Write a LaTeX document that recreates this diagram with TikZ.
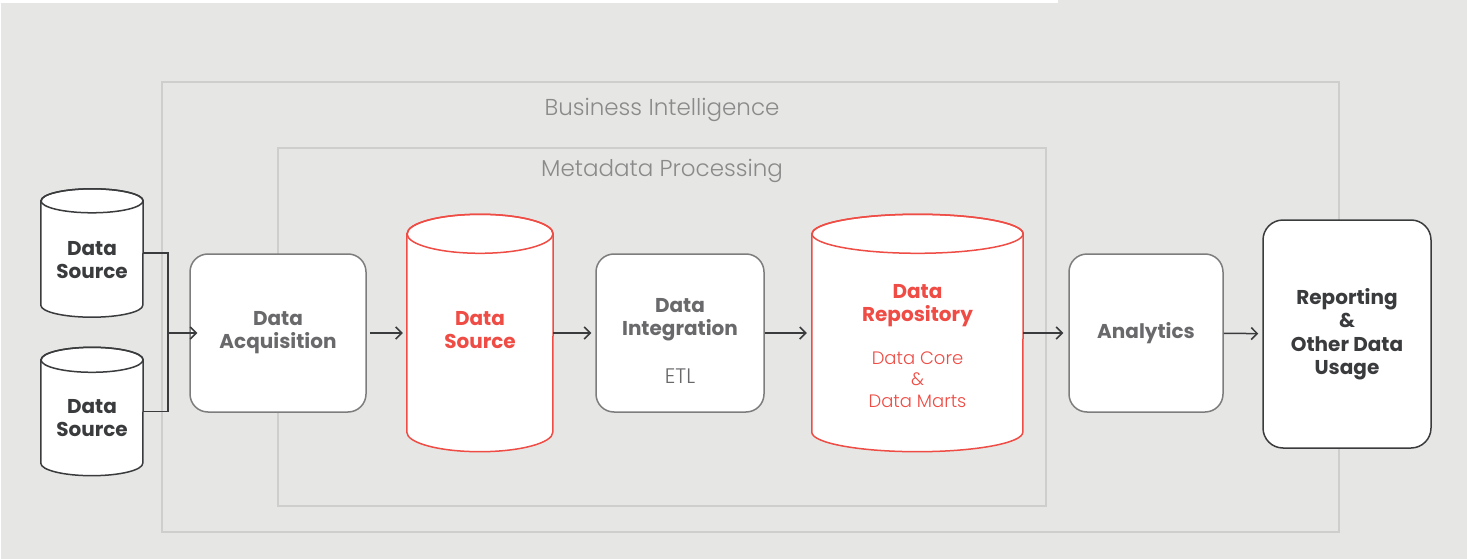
\documentclass[tikz,border=0pt]{standalone}
\usepackage{fontspec}
\setmainfont{Poppins}
\IfFontExistsTF{Poppins Light}{\newfontfamily\thinfont{Poppins Light}}{\newfontfamily\thinfont{Poppins}}
\usetikzlibrary{arrows.meta, positioning}

\definecolor{bggray}{RGB}{230, 231, 228}
\definecolor{framegray}{RGB}{206, 207, 204}
\definecolor{titlegray}{RGB}{138, 138, 138}
\definecolor{boxgray}{RGB}{125, 125, 125}
\definecolor{textgray}{RGB}{105, 105, 107}
\definecolor{dbred}{RGB}{238, 76, 68}
\definecolor{darkgray}{RGB}{58, 59, 61}

% light text line inside a bold node
\newcommand{\thin}[2]{{\mdseries\thinfont\fontsize{#1}{21.5}\selectfont #2}}

% cylinder outline round an empty body node: node, x radius, y radius, colour
\newcommand{\drum}[4]{
  \filldraw[fill=white, draw=#4, line width=1.5pt] (#1.north west) -- (#1.south west)
    arc[start angle=180, end angle=360, x radius=#2pt, y radius=#3pt] -- (#1.north east)
    arc[start angle=0, end angle=180, x radius=#2pt, y radius=#3pt] -- cycle;
  \draw[draw=#4, line width=1.5pt] (#1.north) ellipse[x radius=#2pt, y radius=#3pt];
}

\tikzset{
  frame/.style={draw=framegray, line width=2pt},
  frametitle/.style={text=titlegray, font=\thinfont\fontsize{23}{27}\selectfont},
  stagebox/.style={draw=boxgray, fill=white, rounded corners=18pt, line width=1.5pt, align=center, text=textgray, inner sep=0pt, font=\fontsize{20}{23}\selectfont\bfseries},
  dbbody/.style={inner sep=0pt},
  dbtext/.style={align=center, inner sep=0pt, text=#1, font=\fontsize{20}{23}\selectfont\bfseries},
  flow/.style={draw=darkgray, line width=1.5pt, -{Straight Barb[length=6pt, width=12pt]}},
  link/.style={draw=darkgray, line width=1.5pt},
}

\begin{document}
\begin{tikzpicture}[x=1pt, y=-1pt]
  \useasboundingbox (0,0) rectangle (1470,559);
  \fill[bggray] (1,3) rectangle (1467,559);
  \fill[bggray] (1058,0) rectangle (1467,3);

  % Frames
  \draw[frame] (162,82) rectangle (1339,532);
  \node[frametitle] (bi title) at (662,110) {Business Intelligence};
  \draw[frame] (278,148) rectangle (1046,506);
  \node[frametitle] (mp title) at (662,171) {Metadata Processing};

  % Sources
  \node[dbbody, minimum width=102pt, minimum height=104pt] (src one) at (92,253) {};
  \drum{src one}{51}{12}{darkgray}
  \node[dbtext=darkgray] (src one text) at (92,260) {Data\\Source};

  \node[dbbody, minimum width=102pt, minimum height=103pt] (src two) at (92,411.5) {};
  \drum{src two}{51}{12.5}{darkgray}
  \node[dbtext=darkgray] (src two text) at (92,418) {Data\\Source};

  % Stages
  \node[stagebox, minimum width=176pt, minimum height=158pt] (acq) at (278,333) {Data\\Acquisition};

  \node[dbbody, minimum width=146pt, minimum height=198pt] (stage db) at (480,333) {};
  \drum{stage db}{73}{19.5}{dbred}
  \node[dbtext=dbred] (stage db text) at (480,330) {Data\\Source};

  \node[stagebox, minimum width=168pt, minimum height=158pt] (integ) at (680,333) {};
  \node[dbtext=textgray] (integ text) at (680,341) {Data\\Integration\\[25pt]\thin{21}{ETL}};

  \node[dbbody, minimum width=211pt, minimum height=198pt] (repo) at (917.5,333) {};
  \drum{repo}{105.5}{19.5}{dbred}
  \node[dbtext=dbred] (repo text) at (917.5,346) {Data\\Repository\\[20pt]\thin{18}{Data Core}\\[-1.5pt]\thin{18}{\&}\\[-1.5pt]\thin{18}{Data Marts}};

  \node[stagebox, minimum width=154pt, minimum height=158pt] (analytics) at (1146,333) {Analytics};

  \node[stagebox, draw=darkgray, text=darkgray, rounded corners=20pt, minimum width=168pt, minimum height=228pt, font=\fontsize{20}{23.5}\selectfont\bfseries] (report) at (1347,334) {Reporting\\\&\\Other Data\\Usage};

  % Connectors
  \coordinate (join) at (168,333);
  \draw[link] (src one.east) -| (join);
  \draw[link] (src two.east) -| (join);
  \draw[flow, shorten >=-8pt] (join) -- (acq.west);
  \draw[flow, shorten <=3pt, shorten >=4pt] (acq) -- (stage db);
  \draw[flow, shorten >=4pt] (stage db) -- (integ);
  \draw[flow, shorten >=5pt] (integ) -- (repo);
  \draw[flow, shorten >=5pt] (repo) -- (analytics);
  \draw[flow, shorten >=4pt] (analytics) -- (report);
\end{tikzpicture}
\end{document}
